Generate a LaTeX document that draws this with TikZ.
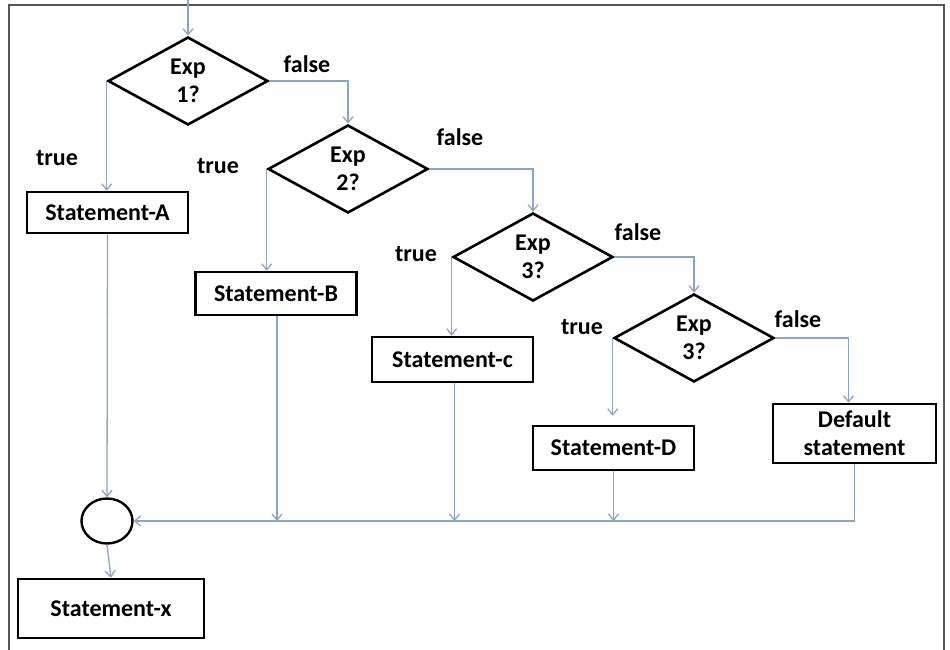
\documentclass[tikz,border=0pt]{standalone}
\usepackage{fontspec}
\setmainfont{Carlito}
\usepackage{xcolor}
\usetikzlibrary{shapes.geometric,arrows.meta}

\definecolor{flowline}{RGB}{138,166,196}
\definecolor{frameline}{RGB}{85,85,85}

\begin{document}
\begin{tikzpicture}[x=1pt, y=-1pt,
    every node/.style={font=\fontsize{24}{28}\selectfont\bfseries},
    decision/.style={diamond, draw=black, line width=2.6pt, inner sep=0pt,
        minimum width=160pt, minimum height=88pt, align=center},
    stmt/.style={rectangle, draw=black, line width=2.6pt, inner sep=0pt,
        minimum width=161pt, minimum height=43pt, align=center},
    flow/.style={draw=flowline, line width=1.3pt, -{Straight Barb[length=6pt,width=10pt]}}]
    \useasboundingbox (0,0) rectangle (950,650);
    % open frame round the chart
    \draw[frameline, line width=1.6pt] (9,650) -- (9,5) -- (944,5) -- (944,650);

    % decisions
    \coordinate (start) at (188,0);
    \node[decision] (dec1) at (188,81) {Exp\\1?};
    \node[decision] (dec2) at (348,169) {Exp\\2?};
    \node[decision] (dec3) at (533,257) {Exp\\3?};
    \node[decision] (dec4) at (694,338) {Exp\\3?};

    % statements
    \node[stmt, minimum height=41pt] (stA) at (107.5,212.5) {Statement-A};
    \node[stmt] (stB) at (276,293.5) {Statement-B};
    \node[stmt, minimum height=45pt] (stC) at (452.5,359.5) {Statement-c};
    \node[stmt, minimum height=44pt] (stD) at (613.5,448) {Statement-D};
    \node[stmt, minimum width=163pt, minimum height=59pt] (stDef) at (854.5,433.5) {Default\\statement};
    \node[ellipse, draw=black, line width=2.4pt, minimum width=51pt, minimum height=45pt] (join) at (107,521) {};
    \node[stmt, minimum width=186pt, minimum height=59pt] (stX) at (111,608.5) {Statement-x};

    % branch labels
    \node at (57,158) {true};
    \node at (218,166) {true};
    \node at (416,254) {true};
    \node at (582,327) {true};
    \node at (307,64) {false};
    \node at (460,137) {false};
    \node at (638,232) {false};
    \node at (798,319) {false};

    % connectors
    \draw[flow] (start) -- (dec1.north);
    \draw[flow] (dec1.west) -- (dec1.west |- stA.north);
    \draw[flow] (dec1.east) -| (dec2.north);
    \draw[flow] (dec2.west) -- (dec2.west |- stB.north);
    \draw[flow] (dec2.east) -| (dec3.north);
    \draw[flow] (dec3.west) -- (dec3.west |- stC.north);
    \draw[flow] (dec3.east) -| (dec4.north);
    \draw[flow, shorten >=9pt] (dec4.west) -- (dec4.west |- stD.north);
    \draw[flow] (dec4.east) -| ([xshift=-6pt]stDef.north);

    \draw[flow] (stA.south) -- (join.north);
    \draw[flow] (stDef.south) |- (join.east);
    \draw[flow] ([xshift=1pt]stB.south) -- ([xshift=1pt]stB.south |- join.east);
    \draw[flow] ([xshift=2pt]stC.south) -- ([xshift=2pt]stC.south |- join.east);
    \draw[flow] (stD.south) -- (stD.south |- join.east);
    \draw[flow] (join.south) -- (stX.north);
\end{tikzpicture}
\end{document}
